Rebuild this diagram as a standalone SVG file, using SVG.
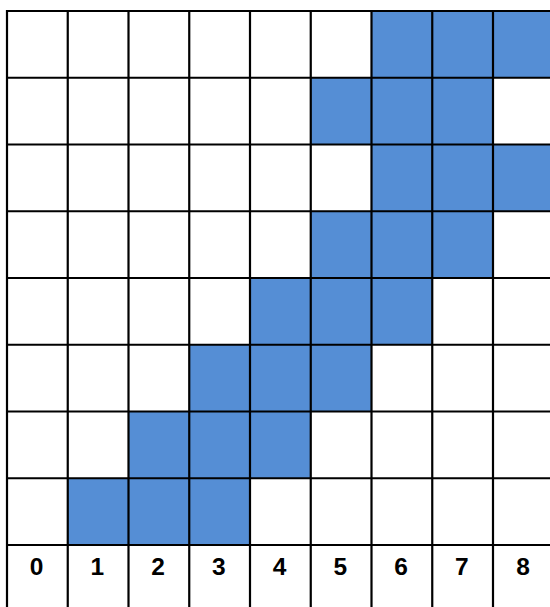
<svg xmlns="http://www.w3.org/2000/svg" width="550" height="607" viewBox="0 0 550 607">
<style>
.c{fill:#558ED5}
.g{stroke:#000;stroke-width:2.2;fill:none}
.t{font-family:"Liberation Sans",Arial,sans-serif;font-weight:bold;font-size:24.5px;text-anchor:middle;fill:#000}
</style>
<rect width="550" height="607" fill="#fff"/>
<g id="cells">
<rect class="c" x="371.5" y="11" width="182.25" height="66.75"/>
<rect class="c" x="310.75" y="77.75" width="182.25" height="66.75"/>
<rect class="c" x="371.5" y="144.5" width="182.25" height="66.75"/>
<rect class="c" x="310.75" y="211.25" width="182.25" height="66.75"/>
<rect class="c" x="250" y="278" width="182.25" height="66.75"/>
<rect class="c" x="189.25" y="344.75" width="182.25" height="66.75"/>
<rect class="c" x="128.5" y="411.5" width="182.25" height="66.75"/>
<rect class="c" x="67.75" y="478.25" width="182.25" height="66.75"/>
</g>
<g id="grid" class="g">
<path d="M7,11H550M7,77.75H550M7,144.5H550M7,211.25H550M7,278H550M7,344.75H550M7,411.5H550M7,478.25H550M7,545H550"/>
<path d="M7,10V607M67.75,10V607M128.5,10V607M189.25,10V607M250,10V607M310.75,10V607M371.5,10V607M432.25,10V607M493,10V607"/>
</g>
<g id="labels">
<text class="t" x="36.5" y="575">0</text>
<text class="t" x="97.3" y="575">1</text>
<text class="t" x="158" y="575">2</text>
<text class="t" x="218.8" y="575">3</text>
<text class="t" x="279.6" y="575">4</text>
<text class="t" x="340.3" y="575">5</text>
<text class="t" x="401" y="575">6</text>
<text class="t" x="461.7" y="575">7</text>
<text class="t" x="523" y="575">8</text>
</g>
</svg>
